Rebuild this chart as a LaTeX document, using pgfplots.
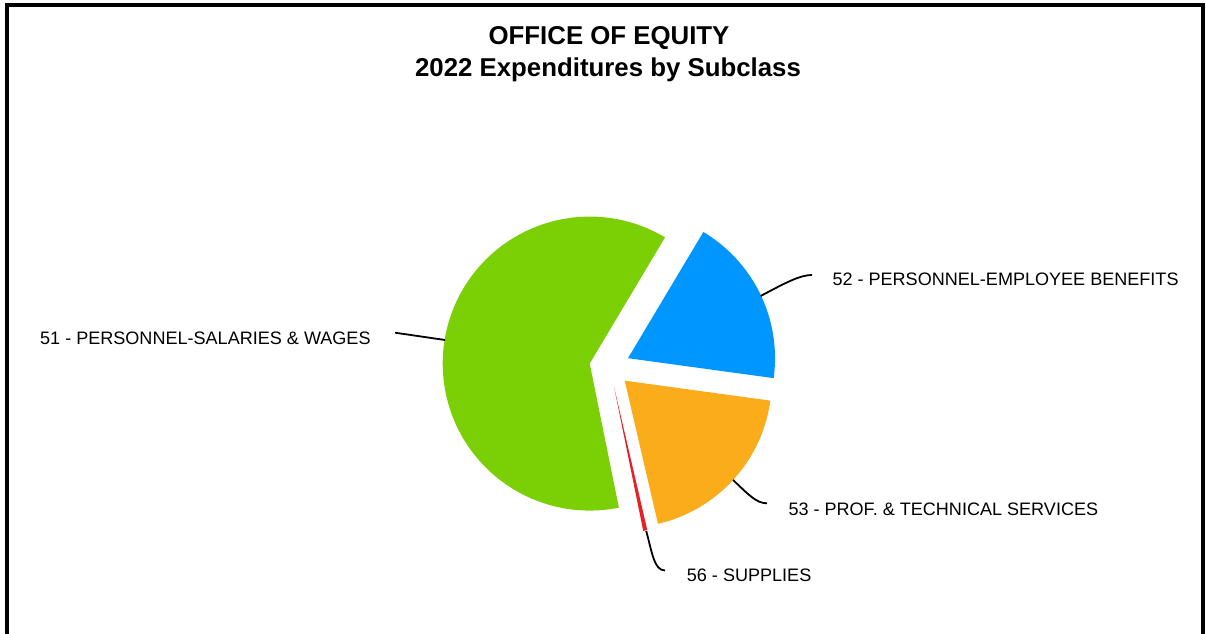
\documentclass[border=0pt]{standalone}
\usepackage{pgfplots}
\pgfplotsset{compat=1.18}
\usepackage{pgfplotstable}
\usepackage{fontspec}
\setmainfont{Liberation Sans}
\definecolor{cGreen}{RGB}{122,207,5}
\definecolor{cBlue}{RGB}{0,150,255}
\definecolor{cOrange}{RGB}{250,172,26}
\definecolor{cRed}{RGB}{232,32,38}

% share of 2022 expenditures (percent), counter-clockwise from the first slice
\pgfplotstableread{
code value
52 18.6
51 61.75
56 0.45
53 19.2
}\piedata

\newcommand\pieslice[3]{%
  \pgfmathsetmacro\pmid{(#1+#2)/2}%
  \pgfmathsetmacro\vx{\cx+\dd*cos(\pmid)}%
  \pgfmathsetmacro\vy{\cy+\dd*sin(\pmid)}%
  \edef\temp{\noexpand\addplot[fill=#3, draw=none, no markers, domain=#1:#2, samples=120]
    ({\vx+\rr*cos(x)},{\vy+\rr*sin(x)}) -- (axis cs:\vx,\vy) -- cycle;}%
  \temp
}

\begin{document}
\begin{tikzpicture}[x=1bp,y=1bp]
\useasboundingbox (0,0) rectangle (1206,634);
\begin{axis}[at={(0,0)}, anchor=south west, width=1206bp, height=634bp,
  scale only axis, xmin=0, xmax=1206, ymin=0, ymax=634, hide axis, clip=false]
  \def\cx{609.7}\def\cy{267}\def\rr{147}\def\dd{20.3}
  \pgfplotstablegetelem{0}{value}\of\piedata \let\vB\pgfplotsretval
  \pgfplotstablegetelem{1}{value}\of\piedata \let\vA\pgfplotsretval
  \pgfplotstablegetelem{2}{value}\of\piedata \let\vD\pgfplotsretval
  \pgfplotstablegetelem{3}{value}\of\piedata \let\vC\pgfplotsretval
  \pgfmathsetmacro\aO{-7.8}
  \pgfmathsetmacro\aI{\aO+3.6*\vB}
  \pgfmathsetmacro\aII{\aI+3.6*\vA}
  \pgfmathsetmacro\aIII{\aII+3.6*\vD}
  \pgfmathsetmacro\aIV{\aIII+3.6*\vC}
  \pieslice{\aO}{\aI}{cBlue}
  \pieslice{\aI}{\aII}{cGreen}
  \pieslice{\aII}{\aIII}{cRed}
  \pieslice{\aIII}{\aIV}{cOrange}

  % leader lines
  \draw[line width=1.8bp] (axis cs:445,294) -- (axis cs:395,301.3);
  \draw[line width=1.8bp] (axis cs:760.7,338) .. controls (axis cs:785,351) and (axis cs:800,359) .. (axis cs:812,359);
  \draw[line width=1.8bp] (axis cs:733,154) .. controls (axis cs:748,140) and (axis cs:756,130.7) .. (axis cs:767,130.7);
  \draw[line width=1.8bp] (axis cs:646.2,103) .. controls (axis cs:652,82) and (axis cs:654,63.5) .. (axis cs:665,63.5);

  % labels
  \begin{scope}[every node/.style={inner sep=0pt, anchor=base west, font=\fontsize{18.05bp}{21bp}\selectfont}]
    \node at (axis cs:40,289.5) {51 - PERSONNEL-SALARIES \& WAGES};
    \node at (axis cs:832.3,348) {52 - PERSONNEL-EMPLOYEE BENEFITS};
    \node at (axis cs:788.3,118) {53 - PROF. \& TECHNICAL SERVICES};
    \node at (axis cs:686.7,52.5) {56 - SUPPLIES};
  \end{scope}

  % title
  \node[inner sep=0pt, anchor=base, font=\bfseries\fontsize{25.8bp}{32bp}\selectfont] at (axis cs:609,589) {OFFICE OF EQUITY};
  \node[inner sep=0pt, anchor=base, font=\bfseries\fontsize{25.8bp}{32bp}\selectfont] at (axis cs:608,557) {2022 Expenditures by Subclass};

  % frame
  \draw[line width=4bp] (axis cs:7,-20) -- (axis cs:7,629) -- (axis cs:1202.5,629) -- (axis cs:1202.5,-20);
\end{axis}
\end{tikzpicture}
\end{document}
